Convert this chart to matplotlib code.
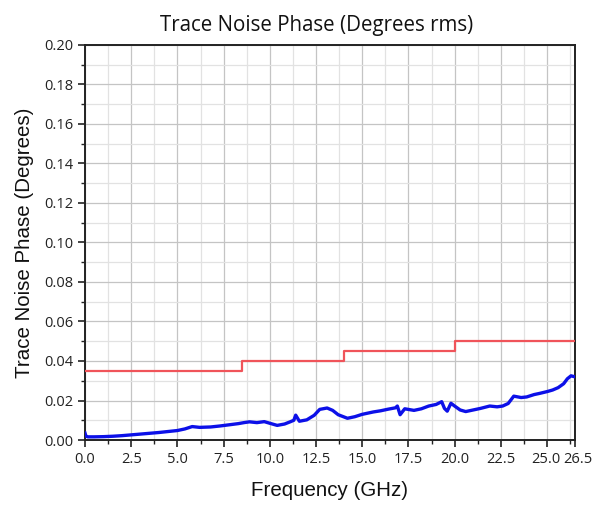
#!/usr/bin/env python3
"""Trace noise phase vs frequency, with the spec limit as a step line."""

import matplotlib
matplotlib.use("Agg")
import matplotlib.pyplot as plt
import matplotlib.ticker as ticker
import matplotlib.transforms as mtransforms
import numpy as np

# spec limit (degrees rms), steps at band edges
spec_freq_ghz = [0.0, 8.5, 14.0, 20.0, 26.5]
spec_deg = [0.035, 0.040, 0.045, 0.050, 0.050]

meas_freq_ghz = [0.0, 0.05, 0.15, 0.5, 1.0, 1.5, 2.0, 2.5, 3.0, 3.5, 4.0, 4.5,
                 5.0, 5.4, 5.8, 6.2, 6.8, 7.3, 7.8, 8.3, 8.6, 8.9, 9.3, 9.7,
                 10.1, 10.4, 10.8, 11.1, 11.3, 11.4, 11.6, 12.0, 12.4, 12.7,
                 13.1, 13.4, 13.7, 14.2, 14.6, 15.0, 15.6, 16.0, 16.4, 16.8,
                 16.9, 17.05, 17.3, 17.8, 18.2, 18.6, 19.0, 19.3, 19.45, 19.6,
                 19.8, 20.0, 20.3, 20.6, 21.0, 21.4, 21.9, 22.3, 22.6, 22.9,
                 23.2, 23.6, 23.9, 24.3, 24.6, 25.0, 25.3, 25.6, 25.9, 26.1,
                 26.3, 26.5]
meas_deg = [0.0035, 0.0020, 0.0016, 0.0016, 0.0017, 0.0019, 0.0022, 0.0026,
            0.0030, 0.0034, 0.0038, 0.0043, 0.0048, 0.0056, 0.0068, 0.0064,
            0.0066, 0.0071, 0.0077, 0.0083, 0.0088, 0.0092, 0.0088, 0.0093,
            0.0082, 0.0074, 0.0081, 0.0092, 0.0100, 0.0126, 0.0095, 0.0102,
            0.0125, 0.0155, 0.0162, 0.0150, 0.0128, 0.0110, 0.0118, 0.0130,
            0.0142, 0.0148, 0.0156, 0.0163, 0.0172, 0.0128, 0.0158, 0.0150,
            0.0158, 0.0172, 0.0180, 0.0194, 0.0160, 0.0146, 0.0186, 0.0172,
            0.0152, 0.0144, 0.0152, 0.0160, 0.0172, 0.0168, 0.0172, 0.0185,
            0.0222, 0.0215, 0.0218, 0.0230, 0.0236, 0.0245, 0.0253, 0.0265,
            0.0285, 0.0310, 0.0325, 0.0320]

TICK_FONT = ["Open Sans", "DejaVu Sans"]
LABEL_FONT = ["Liberation Sans", "DejaVu Sans"]


def main():
    fig = plt.figure(figsize=(6.05, 5.05), dpi=100)
    ax = fig.add_axes([0.1405, 0.1287, 0.8095, 0.7823])

    ax.plot(spec_freq_ghz, spec_deg, drawstyle="steps-post",
            color="#f0545a", linewidth=1.6, zorder=3)
    ax.plot(meas_freq_ghz, meas_deg, color="#0c10e8", linewidth=2.4, zorder=4)

    ax.set_xlim(0, 26.5)
    ax.set_ylim(0, 0.20)

    xt = list(np.arange(0, 25.01, 2.5)) + [26.5]
    ax.set_xticks(xt)
    ax.set_xticklabels([f"{v:.1f}" for v in xt])
    ax.xaxis.set_minor_locator(ticker.FixedLocator(np.arange(1.25, 26.5, 2.5)))
    ax.set_yticks(np.arange(0, 0.201, 0.02))
    ax.yaxis.set_major_formatter(ticker.FormatStrFormatter("%.2f"))
    ax.yaxis.set_minor_locator(ticker.MultipleLocator(0.01))

    ax.tick_params(which="major", direction="out", length=5, width=1.2,
                   labelsize=10.5, color="#222222", labelcolor="#222222")
    ax.tick_params(which="minor", direction="out", length=3, width=1.0,
                   color="#222222")
    for lab in ax.get_xticklabels() + ax.get_yticklabels():
        lab.set_family(TICK_FONT)
    # nudge the last two x labels apart so "25.0" and "26.5" don't collide
    last = ax.get_xticklabels()[-1]
    last.set_transform(last.get_transform() +
                       mtransforms.ScaledTranslation(3 / 100, 0, fig.dpi_scale_trans))
    prev = ax.get_xticklabels()[-2]
    prev.set_transform(prev.get_transform() +
                       mtransforms.ScaledTranslation(-1 / 100, 0, fig.dpi_scale_trans))

    ax.grid(True, which="major", color="#c4c4c4", linewidth=0.9)
    ax.grid(True, which="minor", color="#e2e2e2", linewidth=0.9)
    ax.set_axisbelow(True)
    for s in ax.spines.values():
        s.set_linewidth(1.4)
        s.set_color("#222222")

    ax.set_xlabel("Frequency (GHz)", family=LABEL_FONT, fontsize=14.8,
                  labelpad=10, color="#111111")
    ax.set_ylabel("Trace Noise Phase (Degrees)", family=LABEL_FONT,
                  fontsize=14.8, labelpad=7, color="#111111")
    ax.set_title("Trace Noise Phase (Degrees rms)", family=TICK_FONT,
                 fontsize=14.8, pad=10, color="#111111", x=0.472)

    fig.savefig("out.png", dpi=100)
    plt.close(fig)


if __name__ == "__main__":
    main()
